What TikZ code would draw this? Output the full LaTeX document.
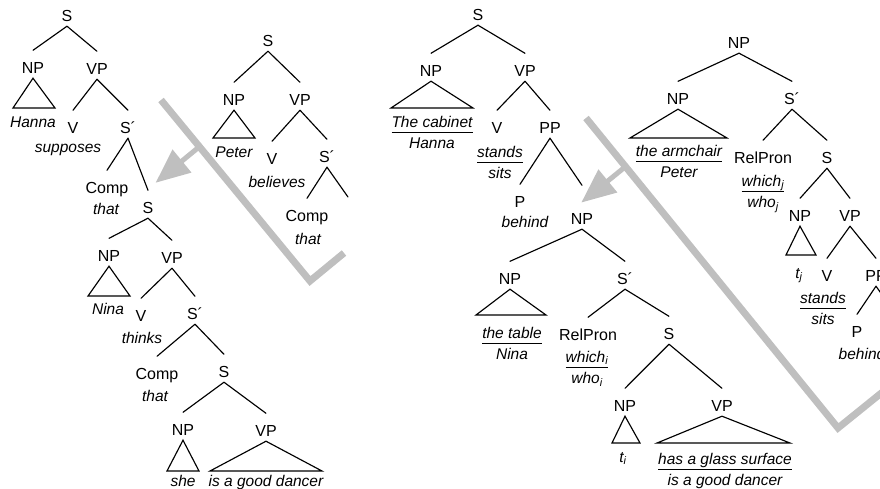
\documentclass[tikz,border=0pt]{standalone}
\usepackage{fontspec}
\setmainfont{Liberation Sans}
\newcommand\fs{\fontsize{15.5}{18.6}\selectfont}
\newcommand\fc{\fontsize{16}{19.2}\selectfont}
\newcommand\dual[2]{\begin{tabular}[t]{@{}c@{}}#1\\[-0.6pt]\hline\rule{0pt}{16pt}#2\end{tabular}}
\setlength\arrayrulewidth{0.9pt}
\tikzset{
  cat/.style={anchor=base, inner sep=0pt, text height=11.5pt, text depth=0pt, font=\fc},
  wd/.style={anchor=base, inner sep=0pt, font=\fs\itshape},
  branch/.style={line width=1.15pt, line cap=round},
  tri/.style={line width=1.15pt, line join=miter},
  gbar/.style={line width=7pt, draw=gray!50, line join=miter},
  gstem/.style={line width=5pt, draw=gray!50},
  ghead/.style={fill=gray!50}
}
\newcommand\br[3][11pt]{\draw[branch] ([yshift=-5pt]#2.south) -- ([yshift=#1]#3.north);}
\newcommand\brc[2]{\draw[branch] ([yshift=-5pt]#1.south) -- (#2);}
\newcommand\trg[3]{\draw[tri] ([yshift=-5pt]#1.south) -- (#2) -- (#3) -- cycle;}
\begin{document}
\begin{tikzpicture}[x=1pt,y=-1pt]
\clip (0,0) rectangle (880,488);
% ---------- gray markers ----------
\draw[gbar] (161,100) -- (310,281) -- (344,253);
\draw[gstem] (199,147) -- (180.5,162.2);
\fill[ghead] (191.5,172.6) -- (155.8,182.6) -- (172.5,149.4) -- cycle;
\draw[gbar] (586,118) -- (838,428) -- (890,386);
\draw[gstem] (625,167) -- (606.4,182.1);
\fill[ghead] (617.4,192.5) -- (581.5,202.4) -- (598.4,169.3) -- cycle;
% ---------- Figure A ----------
\node[cat] (a1) at (67,21) {S};
\node[cat] (a2) at (33,73) {NP};
\node[cat] (a3) at (97,74) {VP};
\node[wd] (a2w) at (33,127) {Hanna};
\node[cat] (a4) at (73,133) {V};
\node[wd] (a4w) at (68,152) {supposes};
\node[cat] (a5) at (128,133) {S´};
\node[cat] (a6) at (107,193) {Comp};
\node[wd] (a6w) at (106,214) {that};
\node[cat] (a7) at (148,213) {S};
\node[cat] (a8) at (109,261) {NP};
\node[wd] (a8w) at (108,314) {Nina};
\node[cat] (a9) at (172,263) {VP};
\node[cat] (a10) at (141,321) {V};
\node[wd] (a10w) at (142,343) {thinks};
\node[cat] (a11) at (195,319) {S´};
\node[cat] (a12) at (157,379) {Comp};
\node[wd] (a12w) at (155,401) {that};
\node[cat] (a13) at (224,377) {S};
\node[cat] (a14) at (183,435) {NP};
\node[wd] (a14w) at (183,486) {she};
\node[cat] (a15) at (266,436) {VP};
\node[wd] (a15w) at (266,486) {is a good dancer};
\br{a1}{a2} \br{a1}{a3} \br{a3}{a4} \br{a3}{a5} \br{a5}{a6} \br{a5}{a7}
\br{a7}{a8} \br{a7}{a9} \br{a9}{a10} \br{a9}{a11} \br{a11}{a12} \br{a11}{a13}
\br{a13}{a14} \br{a13}{a15}
\trg{a2}{13,108}{55,108}
\trg{a8}{88,296}{130,296}
\trg{a14}{167,471}{199,471}
\trg{a15}{210,471}{322,471}
% ---------- Figure B ----------
\node[cat] (b1) at (268,46) {S};
\node[cat] (b2) at (234,105) {NP};
\node[wd] (b2w) at (234,157) {Peter};
\node[cat] (b3) at (300,105) {VP};
\node[cat] (b4) at (272,164) {V};
\node[wd] (b4w) at (277,187) {believes};
\node[cat] (b5) at (327,162) {S´};
\node[cat] (b6) at (307,221) {Comp};
\node[wd] (b6w) at (308,244) {that};
\coordinate (b7) at (348,197);
\br{b1}{b2} \br{b1}{b3} \br{b3}{b4} \br{b3}{b5} \br{b5}{b6} \brc{b5}{b7}
\trg{b2}{213,138}{255,138}
% ---------- Figure C ----------
\node[cat] (c1) at (478,20) {S};
\node[cat] (c2) at (431,76) {NP};
\node[wd] (c2w) at (432,127) {\dual{The cabinet}{Hanna}};
\node[cat] (c3) at (525,76) {VP};
\node[cat] (c4) at (497,133) {V};
\node[wd] (c4w) at (500,157) {\dual{stands}{sits}};
\node[cat] (c5) at (550,133) {PP};
\node[cat] (c6) at (520,207) {P};
\node[wd] (c6w) at (525,227) {behind};
\node[cat] (c7) at (582,224) {NP};
\node[cat] (c8) at (510,284) {NP};
\node[wd] (c8w) at (512,338) {\dual{the table}{Nina}};
\node[cat] (c9) at (625,284) {S´};
\node[cat] (c10) at (588,340) {RelPron};
\node[wd] (c10w) at (587,362) {\dual{which\textsubscript{i}}{who\textsubscript{i}}};
\node[cat] (c11) at (669,339) {S};
\node[cat] (c12) at (625,411) {NP};
\node[wd] (c12w) at (623,462) {t\textsubscript{i}};
\node[cat] (c13) at (722,411) {VP};
\node[wd] (c13w) at (725,464) {\dual{has a glass surface}{is a good dancer}};
\br{c1}{c2} \br{c1}{c3} \br{c3}{c4} \br{c3}{c5} \br{c5}{c6} \br[27pt]{c5}{c7}
\br{c7}{c8} \br{c7}{c9} \br{c9}{c10} \br{c9}{c11} \br{c11}{c12} \br{c11}{c13}
\trg{c2}{391,108}{473,108}
\trg{c8}{476,315}{546,315}
\trg{c12}{612,443}{640,443}
\trg{c13}{657,443}{790,443}
% ---------- Figure D ----------
\node[cat] (d1) at (739,48) {NP};
\node[cat] (d2) at (678,104) {NP};
\node[wd] (d2w) at (679,156) {\dual{the armchair}{Peter}};
\node[cat] (d3) at (792,104) {S´};
\node[cat] (d4) at (763,163) {RelPron};
\node[wd] (d4w) at (763,186) {\dual{which\textsubscript{j}}{who\textsubscript{j}}};
\node[cat] (d5) at (827,163) {S};
\node[cat] (d6) at (800,221) {NP};
\node[wd] (d6w) at (799,278) {t\textsubscript{j}};
\node[cat] (d7) at (850,221) {VP};
\node[cat] (d8) at (827,281) {V};
\node[wd] (d8w) at (823,303) {\dual{stands}{sits}};
\node[cat] (d9) at (876,281) {PP};
\node[cat] (d10) at (857,337) {P};
\node[wd] (d10w) at (862,359) {behind};
\coordinate (d11) at (895,313);
\br{d1}{d2} \br{d1}{d3} \br{d3}{d4} \br{d3}{d5} \br{d5}{d6} \br{d5}{d7}
\br{d7}{d8} \br{d7}{d9} \br{d9}{d10} \brc{d9}{d11}
\trg{d2}{630,138}{727,138}
\trg{d6}{786,255}{816,255}
\end{tikzpicture}
\end{document}
